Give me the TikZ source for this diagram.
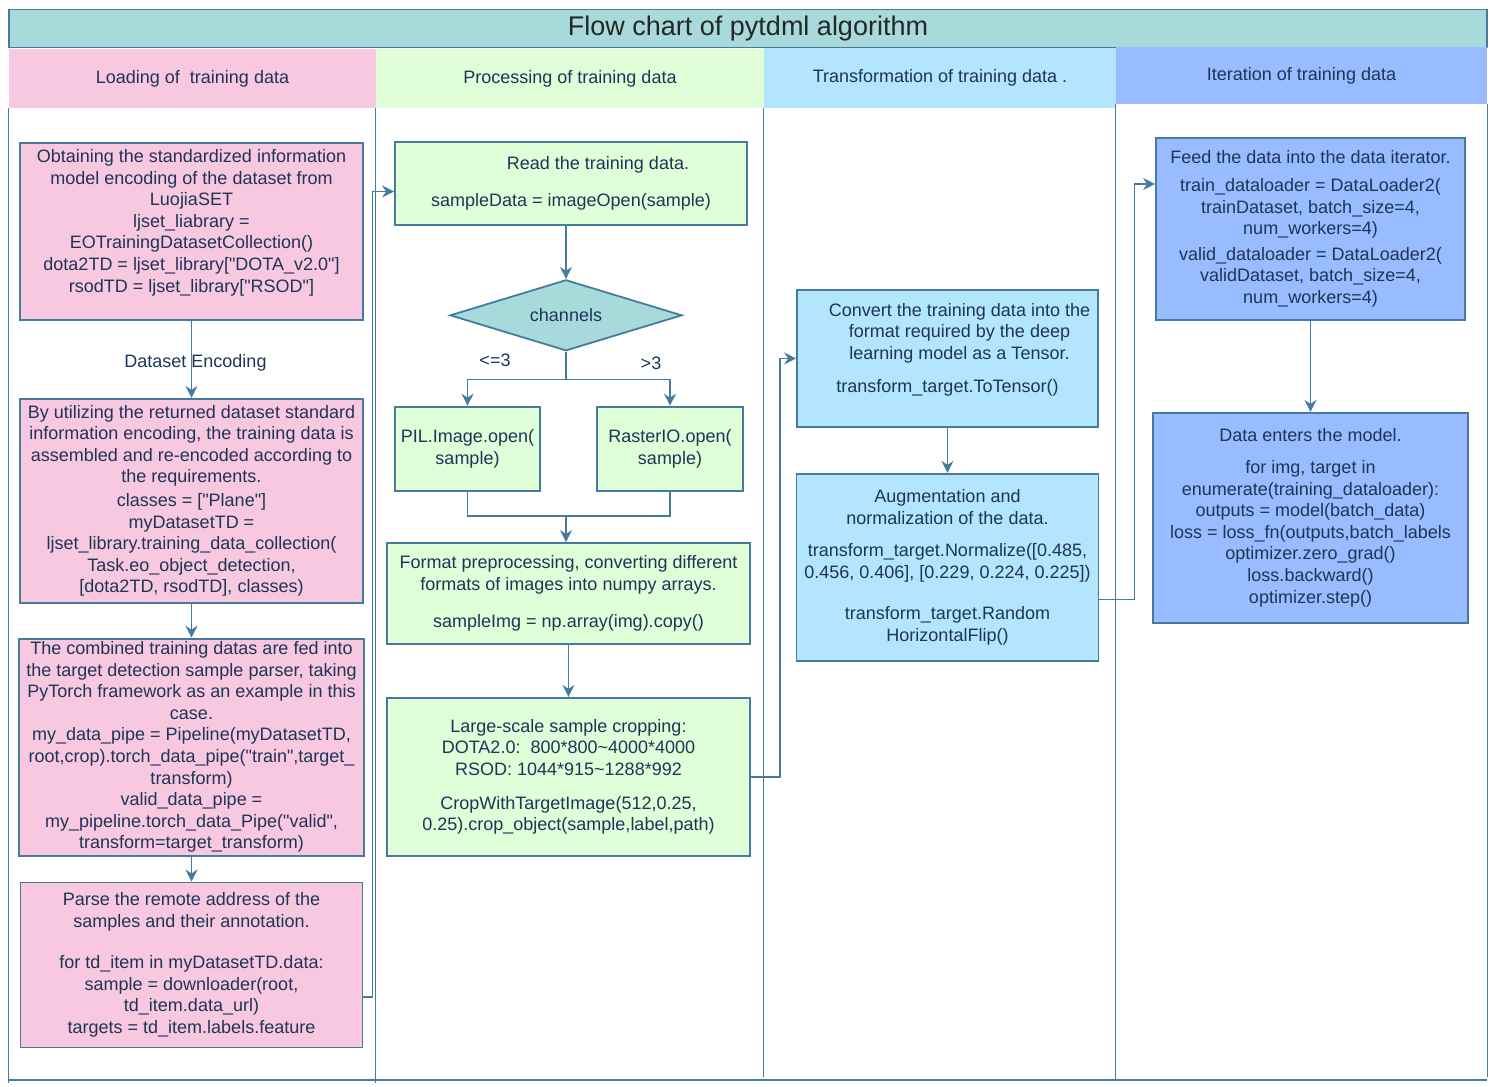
\documentclass[tikz,border=0pt]{standalone}
\usepackage{fontspec}
\setmainfont{Liberation Sans}
\usepackage{tikz}
\usepackage{xcolor}
\usetikzlibrary{shapes.geometric, arrows.meta, positioning, calc}

\definecolor{edgeblue}{HTML}{457B9D}
\definecolor{inkblue}{HTML}{1D3557}
\definecolor{tealfill}{HTML}{A8DADC}
\definecolor{pinkfill}{HTML}{F8C8E0}
\definecolor{greenfill}{HTML}{E0FFD8}
\definecolor{skyfill}{HTML}{B3E5FC}
\definecolor{ironfill}{HTML}{99BBFF}
\newcommand{\dq}{\textquotedbl}

\begin{document}
\begin{tikzpicture}[x=0.5pt, y=-0.5pt,
  >={Stealth[length=6pt, width=6pt, inset=2pt]},
  txt/.style={font=\fontsize{9}{10.8}\selectfont, text=inkblue},
  box/.style={txt, draw=edgeblue, line width=0.9pt, align=center, inner xsep=2pt, inner ysep=0.5pt},
  head/.style={txt, draw=none, minimum height=29.5pt},
  link/.style={draw=edgeblue, line width=0.7pt},
  lane/.style={draw=edgeblue, line width=0.5pt}]
\useasboundingbox (0,0) rectangle (1494,1087);

% Title and lane headers
\node[draw=edgeblue, line width=0.7pt, fill=tealfill, text=black!85, minimum width=739pt, minimum height=18.5pt, font=\fontsize{13.5}{15}\selectfont] (title) at (748,28.5) {\raisebox{-1.5pt}{Flow chart of pytdml algorithm}};
\node[head, fill=pinkfill, minimum width=183.5pt] (h1) at (192.5,78.5) {Loading of~ training data};
\node[head, fill=greenfill, minimum width=194pt] (h2) at (570,78.5) {Processing of training data};
\node[head, fill=skyfill, minimum width=176pt, minimum height=30pt] (h3) at (940,78) {Transformation of training data .};
\node[head, fill=ironfill, minimum width=185.5pt, minimum height=28.5pt] (h4) at (1301.5,75.5) {Iteration of training data};

% Lane borders
\draw[lane] (h1.south west) -- ++(0,975);
\draw[lane] (h2.south west) -- ++(0,975);
\draw[lane] (h3.south west) -- ++(0,969);
\draw[lane] (h4.south west) -- ++(0,976);
\draw[lane] (h4.south east) -- ++(0,973);
\draw[lane, line width=1.2pt] (8,1080) -- (1487,1080);

% Lane 1 - loading
\node[box, fill=pinkfill, minimum width=171.5pt, minimum height=88.5pt] (a1) at (191.5,231.5) {Obtaining the standardized information\\ model encoding of the dataset from\\ LuojiaSET\\ ljset\_liabrary =\\ EOTrainingDatasetCollection()\\ dota2TD = ljset\_library[\dq DOTA\_v2.0\dq]\\ rsodTD = ljset\_library[\dq RSOD\dq]\\ \mbox{}};
\node[box, fill=pinkfill, minimum width=171.5pt, minimum height=102pt, below=38.5pt of a1] (a2) {By utilizing the returned dataset standard\\ information encoding, the training data is\\ assembled and re-encoded according to\\ the requirements.\\[1pt] classes = [\dq Plane\dq]\\ myDatasetTD =\\ ljset\_library.training\_data\_collection(\\ Task.eo\_object\_detection,\\ {[}dota2TD, rsodTD], classes)};
\node[box, fill=pinkfill, minimum width=172.5pt, minimum height=108.5pt, below=17pt of a2] (a3) {The combined training datas are fed into\\ the target detection sample parser, taking\\ PyTorch framework as an example in this\\ case.\\ my\_data\_pipe = Pipeline(myDatasetTD,\\ root,crop).torch\_data\_pipe(\dq train\dq,target\_\\ transform)\\ valid\_data\_pipe =\\ my\_pipeline.torch\_data\_Pipe(\dq valid\dq,\\ transform=target\_transform)};
\node[box, fill=pinkfill, minimum width=171pt, minimum height=82.5pt, below=12.5pt of a3] (a4) {Parse the remote address of the\\ samples and their annotation.\\[10pt] for td\_item in myDatasetTD.data:\\ sample = downloader(root,\\ td\_item.data\_url)\\ targets = td\_item.labels.feature};

% Lane 2 - processing
\node[box, fill=greenfill, minimum width=176pt, minimum height=41.5pt] (b1) at (571,183.5) {\hspace*{27pt}Read the training data.\\[8pt] sampleData = imageOpen(sample)};
\node[box, diamond, aspect=3, fill=tealfill, minimum width=116pt, minimum height=35.5pt, inner sep=0pt, below=26.5pt of b1, xshift=-2.5pt] (dia) {channels};
\node[box, fill=greenfill, minimum width=72.5pt, minimum height=42pt, below=27pt of dia, xshift=-49.25pt] (b2) {PIL.Image.open(\\ sample)};
\node[box, fill=greenfill, minimum width=73pt, minimum height=42pt, below=27pt of dia, xshift=52pt] (b3) {RasterIO.open(\\ sample)};
\node[box, fill=greenfill, minimum width=181.5pt, minimum height=50.5pt] (b4) at (568.5,593.5) {Format preprocessing, converting different\\ formats of images into numpy arrays.\\[8pt] sampleImg = np.array(img).copy()};
\node[box, fill=greenfill, minimum width=181.5pt, minimum height=79pt, below=26pt of b4] (b5) {Large-scale sample cropping:\\ DOTA2.0:\ \ 800*800\textasciitilde{}4000*4000\\ RSOD: 1044*915\textasciitilde{}1288*992\\[6pt] CropWithTargetImage(512,0.25,\\ 0.25).crop\_object(sample,label,path)};
\node[txt] (le) at (495,360) {<=3};
\node[txt] (gt) at (651,363) {>3};

% Lane 3 - transformation
\node[box, fill=skyfill, minimum width=150.5pt, minimum height=68.5pt] (c1) at (947.5,358.5) {\hspace*{12pt}Convert the training data into the\\ \hspace*{12pt}format required by the deep\\ \hspace*{12pt}learning model as a Tensor.\\[5.5pt] transform\_target.ToTensor()\\ \mbox{}};
\node[box, fill=skyfill, minimum width=151pt, minimum height=93.5pt, below=22.5pt of c1] (c2) {Augmentation and\\ normalization of the data.\\[5.5pt] transform\_target.Normalize({[}0.485,\\ 0.456, 0.406], {[}0.229, 0.224, 0.225])\\[10pt] transform\_target.Random\\ HorizontalFlip()};

% Lane 4 - iteration
\node[box, fill=ironfill, minimum width=154.5pt, minimum height=91pt] (d1) at (1310.5,229) {Feed the data into the data iterator.\\[3pt] train\_dataloader = DataLoader2(\\ trainDataset, batch\_size=4,\\ num\_workers=4)\\[2pt] valid\_dataloader = DataLoader2(\\ validDataset, batch\_size=4,\\ num\_workers=4)};
\node[box, fill=ironfill, minimum width=157.5pt, minimum height=105pt, below=45.5pt of d1] (d2) {Data enters the model.\\[5pt] for img, target in\\ enumerate(training\_dataloader):\\ outputs = model(batch\_data)\\ loss = loss\_fn(outputs,batch\_labels\\ optimizer.zero\_grad()\\ loss.backward()\\ optimizer.step()};

% Arrows
\draw[link, ->] (a1) -- node[txt, xshift=2pt, yshift=-1.5pt] (enc) {Dataset Encoding} (a2);
\draw[link, ->] (a2) -- (a3);
\draw[link, ->] (a3) -- (a4);
\draw[link, ->] ([yshift=-16pt]a4.east) -- ++(9,0) |- ([yshift=-4pt]b1.west);
\draw[link, ->] (dia.north |- b1.south) -- (dia.north);
\coordinate (fork) at ($(dia.south)+(0,28)$);
\draw[link] (dia.south) -- (fork);
\draw[link, ->] (fork) -| (b2.north);
\draw[link, ->] (fork) -| (b3.north);
\coordinate (merge) at (566,516);
\draw[link] (b2.south) |- (merge) -| (b3.south);
\draw[link, ->] (merge) -- (merge |- b4.north);
\draw[link, ->] (b4) -- (b5);
\draw[link, ->] (b5.east) -- ++(29,0) |- (c1.west);
\draw[link, ->] (c1) -- (c2);
\draw[link, ->] ([yshift=-16pt]c2.east) -- ++(35,0) |- ([yshift=22.5pt]d1.west);
\draw[link, ->] (d1) -- (d2);
\end{tikzpicture}
\end{document}
